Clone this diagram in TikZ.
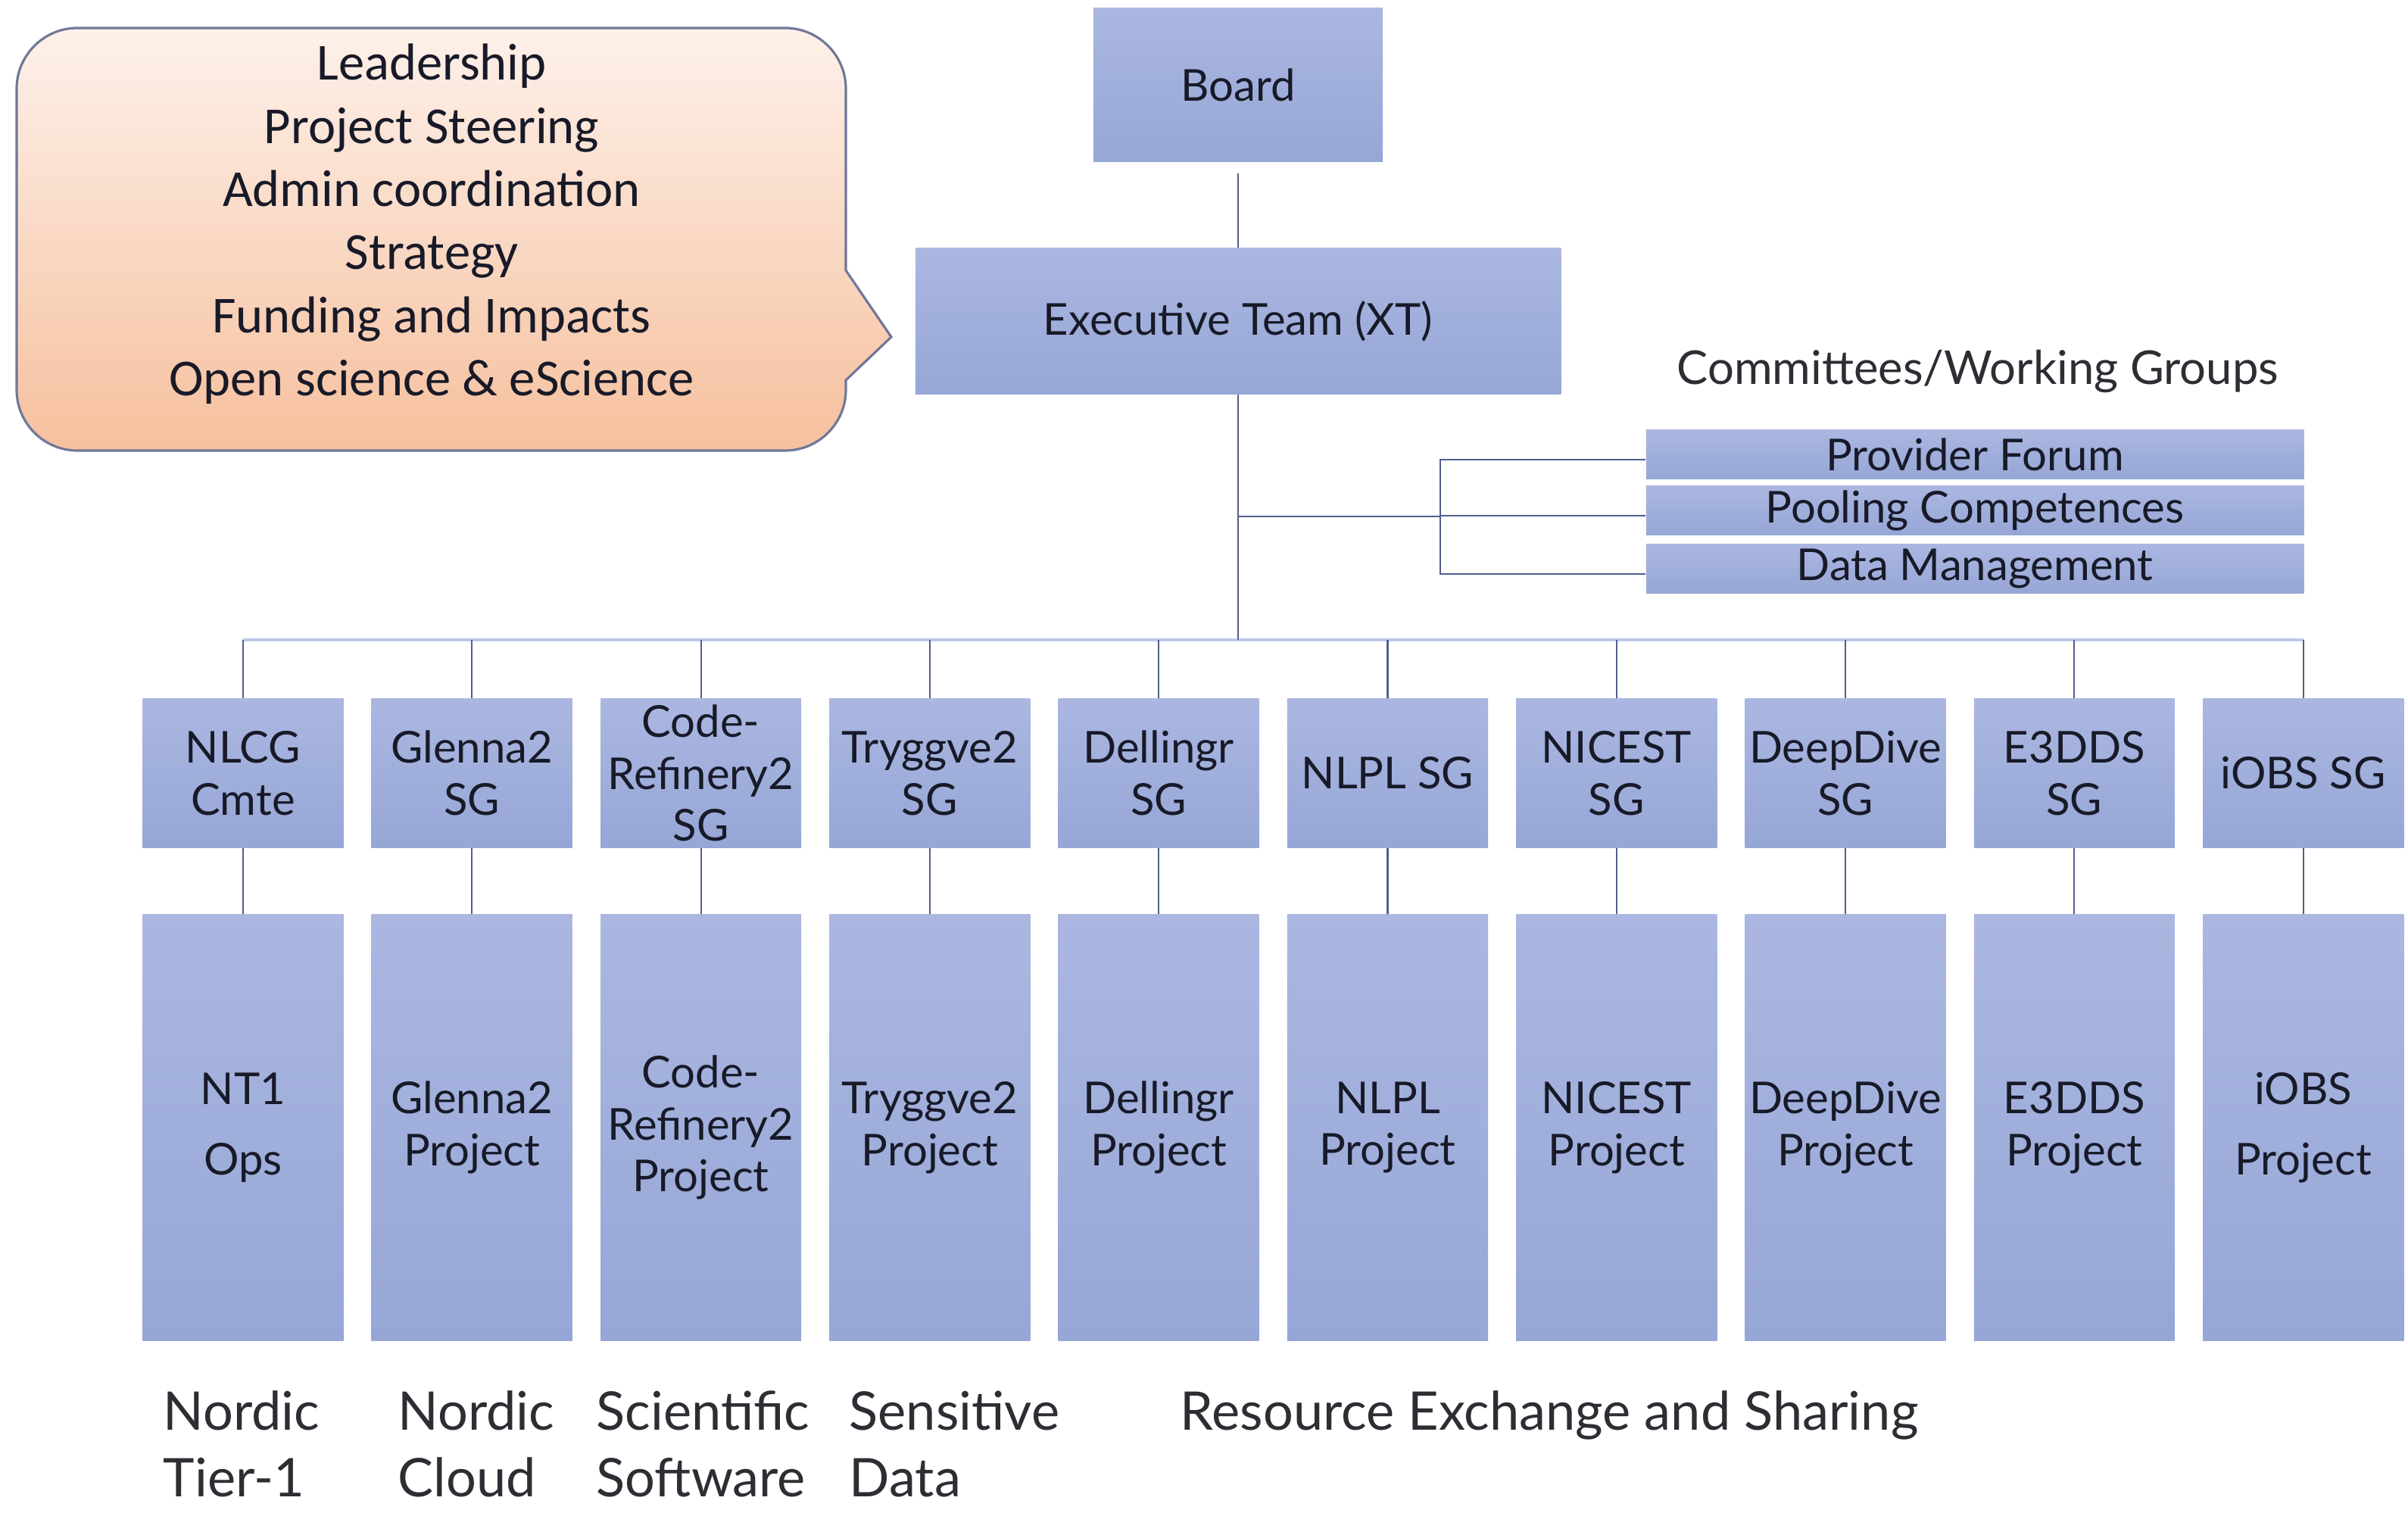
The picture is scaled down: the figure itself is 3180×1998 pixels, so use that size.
\documentclass[tikz,border=0pt]{standalone}
\usepackage{fontspec}
\setmainfont{Lato}
\newfontfamily\calfont{Carlito}
\usepackage{tikz}
\usetikzlibrary{calc}
\definecolor{boxtop} {RGB} {171, 183, 225}
\definecolor{boxbot} {RGB} {150, 166, 214}
\definecolor{peachtop} {RGB} {253, 241, 234}
\definecolor{peachbot} {RGB} {246, 192, 158}
\definecolor{calloutrim} {RGB} {112, 120, 152}
\definecolor{conncol} {RGB} {82, 94, 142}
\definecolor{buscol} {RGB} {190, 200, 234}
\definecolor{inktext} {RGB} {24, 26, 40}
\definecolor{labeltext} {RGB} {45, 45, 52}
\tikzstyle{org}=[
  x=0.01cm, y=-0.01cm, font=\fontsize{16.5}{19.5}\selectfont, text=inktext
]
\tikzstyle{orgbox}=[
  top color=boxtop, bottom color=boxbot, draw=none, inner sep=0pt, align=center
]
\tikzstyle{sgbox}=[
  orgbox, minimum width=2.65cm, minimum height=1.97cm
]
\tikzstyle{prbox}=[
  orgbox, minimum width=2.65cm, minimum height=5.62cm
]
\tikzstyle{cmtbox}=[
  orgbox, minimum width=8.68cm, minimum height=0.64cm
]
\tikzstyle{conn}=[
  draw=conncol, line width=0.6pt
]
\tikzstyle{busline}=[
  draw=buscol, line width=1pt
]
\tikzstyle{area}=[
  anchor=north west, align=left, inner sep=0pt, text=labeltext,
  font=\fontsize{20}{25}\selectfont
]
\begin{document}
\begin{tikzpicture}[org]
    \useasboundingbox (0,0) rectangle (3180,1998);
    \path [top color=peachtop, bottom color=peachbot, draw=calloutrim, line width=0.9pt]
        (22,117) .. controls (22,73) and (58,37) .. (102,37)
        -- (1037,37) .. controls (1081,37) and (1117,73) .. (1117,117)
        -- (1117,357) -- (1177,445) -- (1117,502) -- (1117,515)
        .. controls (1117,559) and (1081,595) .. (1037,595)
        -- (102,595) .. controls (58,595) and (22,559) .. (22,515) -- cycle;
    \node (roles) [font=\calfont\fontsize{19.5}{23.7}\selectfont, align=center, inner sep=0pt]
        at (570,296) {Leadership\\Project Steering\\Admin coordination\\Strategy\\Funding and Impacts\\Open science \& eScience};
    \node (board) [orgbox, minimum width=3.82cm, minimum height=2.03cm] at (1635,112) {Board};
    \node (xt) [orgbox, minimum width=8.52cm, minimum height=1.92cm] at (1635,424) {Executive Team (XT)};
    \node (cwg) [font=\fontsize{17.5}{20}\selectfont, text=labeltext] at (2612,490) {Committees/Working Groups};
    \node (pf) [cmtbox] at (2608,600) {Provider Forum};
    \node (pc) [cmtbox] at (2608,674) {Pooling Competences};
    \node (dm) [cmtbox] at (2608,751) {Data Management};
    \coordinate (bus) at (1635,845);
    \coordinate (cmt) at (1902,682);
    \foreach \i/\sgtext/\prtext in {1/{NLCG\\Cmte}/{NT1\\[7pt]Ops},
        2/{Glenna2\\SG}/{Glenna2\\Project},
        3/{Code-\\Refinery2\\SG}/{Code-\\Refinery2\\Project},
        4/{Tryggve2\\SG}/{Tryggve2\\Project},
        5/{Dellingr\\SG}/{Dellingr\\Project},
        6/{NLPL SG}/{NLPL\\Project},
        7/{NICEST\\SG}/{NICEST\\Project},
        8/{DeepDive\\SG}/{DeepDive\\Project},
        9/{E3DDS\\SG}/{E3DDS\\Project},
        10/{iOBS SG}/{iOBS\\[7pt]Project}} {
        \node (sg\i) [sgbox] at ({321+302.3*(\i-1)},1021) {\sgtext};
        \node (pr\i) [prbox] at ({321+302.3*(\i-1)},1489) {\prtext};
    }
    \node (tier1) [area] at (215,1836) {Nordic\\Tier-1};
    \node (cloud) [area] at (525,1836) {Nordic\\Cloud};
    \node (soft) [area] at (787,1836) {Scientific\\Software};
    \node (sens) [area] at (1121,1836) {Sensitive\\Data};
    \node (share) [area] at (1558,1836) {Resource Exchange and Sharing};
    \draw [busline] (sg1.north |- bus) -- (sg10.north |- bus);
    \draw [conn, shorten <=0.15cm] (board) -- (xt);
    \draw [conn] (xt) -- (bus);
    \draw [conn] (xt.south |- cmt) -- (cmt);
    \foreach \c in {pf,pc,dm}
        \draw [conn] (cmt) |- ($(\c.west)+(0,7)$);
    \foreach \i in {1,...,10} {
        \draw [conn] (sg\i.north |- bus) -- (sg\i);
        \draw [conn] (sg\i) -- (pr\i);
    }
\end{tikzpicture}
\end{document}
